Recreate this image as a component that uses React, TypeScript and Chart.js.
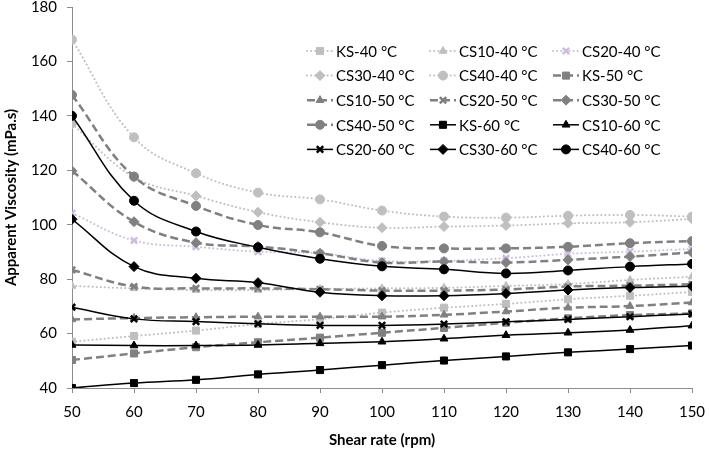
import React, { useEffect, useRef } from "react";
import { Chart, registerables } from "chart.js";
import { drawPoint } from "chart.js/helpers";

Chart.register(...registerables);

const rpm = [50, 60, 70, 80, 90, 100, 110, 120, 130, 140, 150];

const ks40 = [57.0, 59.1, 61.1, 63.5, 65.3, 67.7, 69.5, 70.9, 72.6, 73.9, 75.3];
const cs10_40 = [77.5, 76.6, 76.0, 76.0, 76.4, 76.6, 76.8, 77.5, 78.2, 79.7, 80.9];
const cs20_40 = [104.2, 94.2, 91.9, 90.1, 89.5, 86.7, 86.7, 87.7, 89.3, 90.1, 91.1];
const cs30_40 = [137.0, 117.5, 110.6, 104.6, 100.9, 98.9, 99.3, 99.7, 100.5, 100.9, 102.1];
const cs40_40 = [168.0, 132.1, 118.9, 111.8, 109.3, 105.2, 103.0, 102.6, 103.3, 103.6, 103.0];

const ks50 = [50.3, 52.7, 55.0, 56.8, 58.5, 60.3, 62.1, 64.0, 65.6, 66.8, 67.4];
const cs10_50 = [65.2, 65.7, 66.0, 66.2, 66.2, 66.2, 66.9, 68.1, 69.5, 70.1, 71.4];
const cs20_50 = [83.4, 77.3, 76.6, 76.6, 76.3, 75.8, 75.8, 76.2, 77.3, 77.6, 78.1];
const cs30_50 = [119.8, 101.1, 93.4, 92.0, 89.5, 86.1, 86.5, 86.1, 87.1, 88.3, 89.8];
const cs40_50 = [147.7, 117.7, 106.9, 99.9, 97.2, 92.2, 91.3, 91.3, 91.9, 93.2, 94.0];

const ks60 = [40.0, 41.8, 43.0, 45.0, 46.6, 48.4, 50.1, 51.6, 53.1, 54.3, 55.6];
const cs10_60 = [55.8, 55.6, 55.6, 55.8, 56.4, 57.0, 58.1, 59.4, 60.3, 61.3, 62.9];
const cs20_60 = [69.7, 65.4, 64.4, 63.6, 63.0, 63.0, 63.5, 64.3, 65.2, 66.2, 67.2];
const cs30_60 = [102.0, 84.6, 80.3, 78.7, 75.2, 73.9, 73.9, 74.7, 76.0, 76.9, 77.4];
const cs40_60 = [140.0, 108.8, 97.5, 91.7, 87.5, 84.7, 83.6, 82.1, 83.2, 84.6, 85.6];

const seriesLabels = [
  "KS-40 °C", "CS10-40 °C", "CS20-40 °C", "CS30-40 °C", "CS40-40 °C",
  "KS-50 °C", "CS10-50 °C", "CS20-50 °C", "CS30-50 °C", "CS40-50 °C",
  "KS-60 °C", "CS10-60 °C", "CS20-60 °C", "CS30-60 °C", "CS40-60 °C",
];
const seriesValues = [
  ks40, cs10_40, cs20_40, cs30_40, cs40_40,
  ks50, cs10_50, cs20_50, cs30_50, cs40_50,
  ks60, cs10_60, cs20_60, cs30_60, cs40_60,
];
const markerStyles = ["rect", "triangle", "crossRot", "rectRot", "circle"];

const yTicks = [40, 60, 80, 100, 120, 140, 160, 180];

const FONT = "Lato, 'Open Sans', sans-serif";

function styleFor(i: number) {
  const group = Math.floor(i / 5);
  const k = i % 5;
  if (group === 0) {
    const c = k === 2 ? "#CBBFDB" : "#BFBFBF";
    return { color: c, dash: [0.1, 4], width: 2, cap: "round" as CanvasLineCap };
  }
  if (group === 1) {
    return { color: "#808080", dash: [8, 4], width: 2.5, cap: "butt" as CanvasLineCap };
  }
  return { color: "#000000", dash: [] as number[], width: 1.5, cap: "butt" as CanvasLineCap };
}

function radiusFor(k: number) {
  if (k === 0) return 5;
  if (k === 2) return 4.5;
  if (k === 3) return 5;
  return 4.5;
}

const legendPlugin = {
  id: "gridLegend",
  afterDraw(chart: any) {
    const ctx = chart.ctx as CanvasRenderingContext2D;
    const colX = [307, 430, 553];
    const rowY0 = 51;
    const rowStep = 24.6;
    ctx.save();
    seriesLabels.forEach((label, i) => {
      const col = i % 3;
      const row = Math.floor(i / 3);
      const x0 = colX[col];
      const y = rowY0 + row * rowStep;
      const st = styleFor(i);
      const k = i % 5;
      ctx.save();
      ctx.strokeStyle = st.color;
      ctx.lineWidth = st.width;
      ctx.lineCap = st.cap;
      ctx.setLineDash(st.dash);
      ctx.beginPath();
      ctx.moveTo(x0, y);
      ctx.lineTo(x0 + 26, y);
      ctx.stroke();
      ctx.restore();
      ctx.save();
      ctx.fillStyle = st.color;
      ctx.strokeStyle = st.color;
      ctx.lineWidth = k === 2 ? 2.5 : 1;
      drawPoint(ctx, { pointStyle: markerStyles[k], radius: radiusFor(k), rotation: 0, borderWidth: k === 2 ? 2.5 : 1 } as any, x0 + 13, y);
      ctx.restore();
      ctx.fillStyle = "#000";
      ctx.font = "15px " + FONT;
      ctx.textBaseline = "middle";
      ctx.textAlign = "left";
      ctx.fillText(label, x0 + 29, y + 1);
    });
    ctx.restore();
  },
};

export default function App() {
  const canvasRef = useRef<HTMLCanvasElement | null>(null);

  useEffect(() => {
    if (!canvasRef.current) return;
    const datasets = seriesValues.map((vals, i) => {
      const st = styleFor(i);
      const k = i % 5;
      return {
        label: seriesLabels[i],
        data: vals.map((v, j) => ({ x: rpm[j], y: v })),
        borderColor: st.color,
        backgroundColor: st.color,
        borderWidth: st.width,
        borderDash: st.dash,
        borderCapStyle: st.cap,
        pointStyle: markerStyles[k],
        pointRadius: radiusFor(k),
        pointBackgroundColor: st.color,
        pointBorderColor: st.color,
        pointBorderWidth: k === 2 ? 2.5 : 1,
        tension: 0.4,
        fill: false,
        order: -i,
      };
    });

    const chart = new Chart(canvasRef.current, {
      type: "line",
      data: { datasets },
      plugins: [legendPlugin],
      options: {
        animation: false,
        responsive: false,
        layout: { padding: { left: 0, top: 7, right: 17, bottom: 0 } },
        plugins: { legend: { display: false }, tooltip: { enabled: false } },
        scales: {
          x: {
            type: "linear",
            min: 50,
            max: 150,
            afterBuildTicks: (s: any) => {
              s.ticks = rpm.map((v) => ({ value: v }));
            },
            afterFit: (s: any) => {
              s.height = 68;
              s.paddingLeft = 0;
              s.paddingRight = 0;
            },
            ticks: {
              color: "#000",
              font: { family: FONT, size: 15 },
              padding: 10,
              maxRotation: 0,
              autoSkip: false,
            },
            grid: { display: true, drawOnChartArea: false, drawTicks: true, tickLength: 5, color: "#8c8c8c" },
            border: { display: true, color: "#8c8c8c", width: 1 },
            title: {
              display: true,
              text: "Shear rate (rpm)",
              color: "#000",
              font: { family: FONT, size: 15, weight: "bold" },
              padding: { top: 4, bottom: 7 },
            },
          },
          y: {
            type: "linear",
            min: 40,
            max: 180,
            afterBuildTicks: (s: any) => {
              s.ticks = yTicks.map((v) => ({ value: v }));
            },
            afterFit: (s: any) => {
              s.width = 72;
              s.paddingTop = 0;
              s.paddingBottom = 0;
            },
            ticks: {
              color: "#000",
              font: { family: FONT, size: 15 },
              padding: 10,
            },
            grid: { display: true, drawOnChartArea: false, drawTicks: true, tickLength: 5, color: "#8c8c8c" },
            border: { display: true, color: "#8c8c8c", width: 1 },
            title: {
              display: true,
              text: "Apparent Viscosity (mPa.s)",
              color: "#000",
              font: { family: FONT, size: 15, weight: "bold" },
              padding: { top: 2, bottom: 4 },
            },
          },
        },
      },
    } as any);

    return () => chart.destroy();
  }, []);

  return (
    <div style={{ position: "absolute", left: 0, top: 0, width: 709, height: 456, background: "#fff" }}>
      <canvas ref={canvasRef} width={709} height={456} style={{ display: "block" }} />
    </div>
  );
}
